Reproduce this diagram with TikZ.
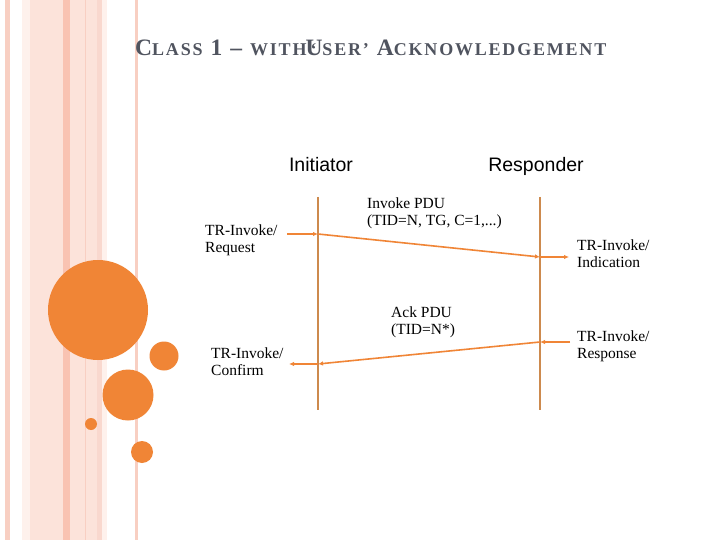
\documentclass[tikz,border=0pt]{standalone}
\usepackage{fontspec}
\setmainfont{Liberation Serif}
\newfontfamily\sansf{Liberation Sans}
\newfontfamily\titlef[LetterSpace=10]{Liberation Serif Bold}
\usetikzlibrary{arrows.meta}
\definecolor{titlegray}{HTML}{50545F}
\definecolor{orng}{HTML}{F08536}
\definecolor{tan}{HTML}{CD8A4E}
\definecolor{pink1}{HTML}{F8CFC2}
\definecolor{pink2}{HTML}{FCE3DA}
\definecolor{pink3}{HTML}{F9C3B2}
\definecolor{pink4}{HTML}{FEF1EC}
\newcommand\tbig[1]{{\fontsize{23.5}{23.5}\selectfont #1}}
\newcommand\tsml[1]{{\fontsize{18}{18}\selectfont #1}}
\newcommand\tsp{\hspace{8pt}}
\tikzset{
  lbl/.style={font=\fontsize{15.5}{17}\selectfont, align=left, anchor=north west, inner sep=0pt, text=black},
  role/.style={font=\sansf\fontsize{19.5}{20}\selectfont, inner sep=0pt, anchor=base},
  life/.style={draw=tan, line width=1.6pt},
  msg/.style={draw=orng, line width=1.6pt, -{Latex[length=5pt,width=4.5pt]}},
  dot/.style={circle, fill=orng, inner sep=0pt},
}
\begin{document}
\begin{tikzpicture}[x=1pt,y=-1pt]
\useasboundingbox (0,0) rectangle (720,540);
\fill[white] (0,0) rectangle (720,540);
% left stripes
\fill[pink1] (5,0) rectangle (10,540);
\fill[pink4] (22,0) rectangle (30,540);
\fill[pink2] (30,0) rectangle (63,540);
\fill[pink3] (63,0) rectangle (70,540);
\fill[pink2] (70,0) rectangle (85,540);
\fill[pink1] (85,0) rectangle (86,540);
\fill[pink2] (86,0) rectangle (97,540);
\fill[pink1!80] (97,0) rectangle (102,540);
\fill[pink4] (102,0) rectangle (107,540);
\fill[pink1] (135,0) rectangle (138,540);
% circles
\node[dot, minimum size=100pt] (c1) at (98,310) {};
\node[dot, minimum size=29pt] (c2) at (164,356) {};
\node[dot, minimum size=51pt] (c3) at (128,395) {};
\node[dot, minimum size=12pt] (c4) at (91,424) {};
\node[dot, minimum size=22pt] (c5) at (142,452) {};
% title
\node[anchor=base west, inner sep=0pt, text=titlegray, font=\titlef] (title) at (135,56)
  {\tbig{C}\tsml{LASS}\tsp\tbig{1}\tsp\tbig{–}\tsp\tsml{WITH}\kern-1pt\tbig{\rlap{\kern5pt\tsml{‘}}U}\tsml{SER’}\tsp\tbig{A}\tsml{CKNOWLEDGEMENT}};
% roles
\node[role] (init) at (321,172) {Initiator};
\node[role] (resp) at (536,172) {Responder};
% lifelines
\coordinate (lt) at (318,197);
\coordinate (lb) at (318,410);
\coordinate (rt) at (540,197);
\coordinate (rb) at (540,410);
\draw[life] (lt) -- (lb);
\draw[life] (rt) -- (rb);
% message points
\coordinate (a0) at (287,234);
\coordinate (a1) at (318,234);
\coordinate (a2) at (540,257);
\coordinate (a3) at (569,257);
\coordinate (b0) at (570,342);
\coordinate (b1) at (540,342);
\coordinate (b2) at (318,364);
\coordinate (b3) at (289,364);
\draw[msg] (a0) -- (a1);
\draw[msg] (a1) -- (a2);
\draw[msg] (a2) -- (a3);
\draw[msg] (b0) -- (b1);
\draw[msg] (b1) -- (b2);
\draw[msg] (b2) -- (b3);
% labels
\node[lbl] (req) at (205,225) {TR-Invoke/\\Request};
\node[lbl] (ipdu) at (367,198) {Invoke PDU\\(TID=N, TG, C=1,...)};
\node[lbl] (ind) at (577,240) {TR-Invoke/\\Indication};
\node[lbl] (apdu) at (391,307) {Ack PDU\\(TID=N*)};
\node[lbl] (rsp) at (577,331) {TR-Invoke/\\Response};
\node[lbl] (cnf) at (211,348) {TR-Invoke/\\Confirm};
\end{tikzpicture}
\end{document}
